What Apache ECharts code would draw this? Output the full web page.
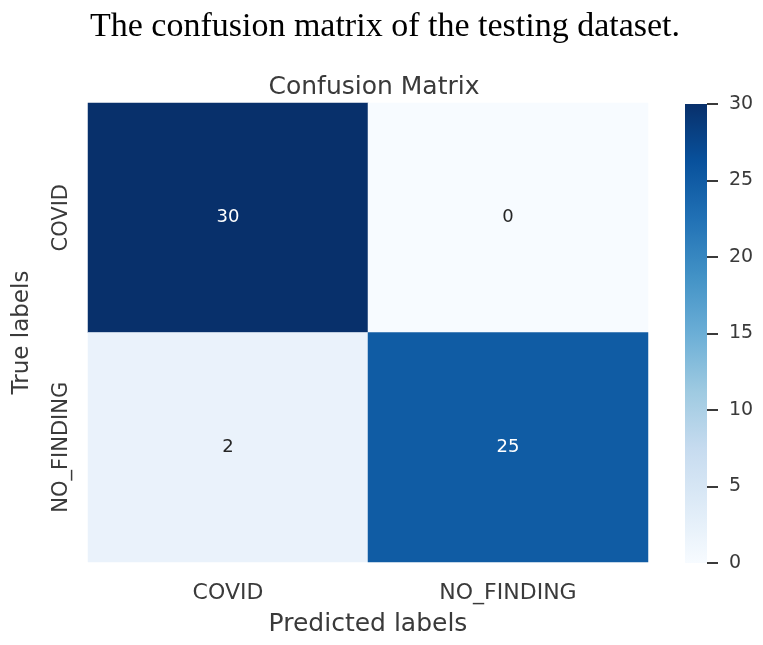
<!DOCTYPE html>
<html>
<head>
<meta charset="utf-8">
<script src="https://cdn.jsdelivr.net/npm/echarts@6/dist/echarts.min.js"></script>
<style>
html,body{margin:0;padding:0;background:#fff;}
#chart{width:763px;height:645px;}
</style>
</head>
<body>
<div id="chart"></div>
<script>
var predictedLabels = ['COVID', 'NO_FINDING'];
var trueLabels = ['COVID', 'NO_FINDING'];
// rows = true labels, columns = predicted labels
var rowCOVID = [30, 0];
var rowNoFinding = [2, 25];
var colorbarTicks = [0, 5, 10, 15, 20, 25, 30];
var blues = ['#f7fbff', '#deebf7', '#c6dbef', '#9ecae1', '#6baed6', '#4292c6', '#2171b5', '#08519c', '#08306b'];

var rows = [rowCOVID, rowNoFinding];
var vmin = colorbarTicks[0];
var vmax = colorbarTicks[colorbarTicks.length - 1];
var cells = [];
rows.forEach(function (row, r) {
  row.forEach(function (v, c) {
    cells.push({
      value: [c, r, v],
      label: { color: v > (vmin + vmax) / 2 ? '#ffffff' : '#262626' }
    });
  });
});

var stops = blues.map(function (c, i) {
  return { offset: 1 - i / (blues.length - 1), color: c };
});

var chart = echarts.init(document.getElementById('chart'), null, { renderer: 'canvas' });
var font = 'DejaVu Sans';
chart.setOption({
  backgroundColor: '#ffffff',
  animation: false,
  title: [
    {
      text: 'The confusion matrix of the testing dataset.',
      left: 380, top: 5, textAlign: 'center',
      textStyle: { fontFamily: 'Liberation Serif', fontSize: 34, fontWeight: 'normal', color: '#000' }
    },
    {
      text: 'Confusion Matrix',
      left: 369, top: 70, textAlign: 'center',
      textStyle: { fontFamily: font, fontSize: 25, fontWeight: 'normal', color: '#3a3a3a' }
    }
  ],
  visualMap: {
    show: false, type: 'continuous', seriesIndex: 0,
    min: vmin, max: vmax, dimension: 2,
    inRange: { color: blues }
  },
  grid: [
    { left: 88, top: 103, width: 560, height: 459 },
    { left: 685, top: 104, width: 22, height: 459 }
  ],
  xAxis: [
    {
      type: 'category', gridIndex: 0, data: predictedLabels,
      axisLine: { show: false }, axisTick: { show: false }, splitLine: { show: false },
      axisLabel: { fontFamily: font, fontSize: 22, color: '#3a3a3a', margin: 20 },
      name: 'Predicted labels', nameLocation: 'middle', nameGap: 50,
      nameTextStyle: { fontFamily: font, fontSize: 25, color: '#3a3a3a' }
    },
    {
      type: 'category', gridIndex: 1, data: [''], show: false
    }
  ],
  yAxis: [
    {
      type: 'category', gridIndex: 0, data: trueLabels, inverse: true,
      axisLine: { show: false }, axisTick: { show: false }, splitLine: { show: false },
      axisLabel: { fontFamily: font, fontSize: 21, color: '#3a3a3a', margin: 16, rotate: 90 },
      name: 'True labels', nameLocation: 'middle', nameGap: 54, nameRotate: 90,
      nameTextStyle: { fontFamily: font, fontSize: 23, color: '#3a3a3a' }
    },
    {
      type: 'value', gridIndex: 1, position: 'right', min: vmin, max: vmax, interval: 5,
      axisLine: { show: false },
      axisTick: { show: true, inside: false, length: 11, lineStyle: { color: '#3a3a3a', width: 2 } },
      splitLine: { show: false },
      axisLabel: { fontFamily: font, fontSize: 19, color: '#3a3a3a', margin: 22 }
    }
  ],
  series: [
    {
      type: 'heatmap', xAxisIndex: 0, yAxisIndex: 0,
      data: cells,
      label: { show: true, fontFamily: font, fontSize: 18, formatter: function (p) { return p.value[2]; } },
      itemStyle: { borderWidth: 0 },
      emphasis: { disabled: true }
    },
    {
      type: 'bar', xAxisIndex: 1, yAxisIndex: 1,
      data: [vmax], barWidth: '100%',
      itemStyle: { color: new echarts.graphic.LinearGradient(0, 0, 0, 1, stops) },
      silent: true
    }
  ]
});
</script>
</body>
</html>
